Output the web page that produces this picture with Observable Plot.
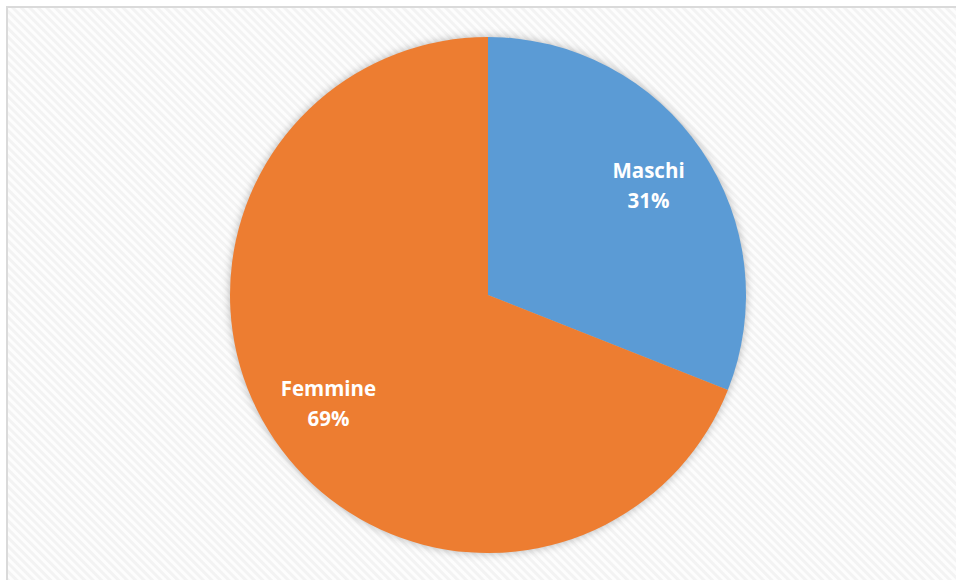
<!DOCTYPE html>
<html>
<head>
<meta charset="utf-8">
<script src="https://cdn.jsdelivr.net/npm/d3@7"></script>
<script src="https://cdn.jsdelivr.net/npm/@observablehq/plot@0.6"></script>
<style>
  html, body { margin: 0; padding: 0; background: #ffffff; }
  body { width: 956px; height: 580px; overflow: hidden; position: relative; }
  #frame {
    position: absolute; left: 6px; top: 6px; width: 1000px; height: 620px;
    border-left: 2px solid #dadada; border-top: 2px solid #dadada;
    background: repeating-linear-gradient(45deg, #fdfdfd 0px, #fdfdfd 2px, #f3f3f3 3px, #f3f3f3 5px, #fdfdfd 6px);
  }
  #chart { position: absolute; left: 0; top: 0; }
  #chart svg { background: transparent !important; overflow: visible; }
  .pie-slices { filter: drop-shadow(0 0 4px rgba(0,0,0,0.28)); }
</style>
</head>
<body>
<div id="frame"></div>
<div id="chart"></div>
<script>
const categories = ["Maschi", "Femmine"];
const shares = [31, 69];
const colors = ["#5B9BD5", "#ED7D31"];

const pie = d3.pie().sort(null).value(d => d.value);
const slices = pie(categories.map((c, i) => ({name: c, value: shares[i], color: colors[i]})));

const labelR = 0.75;
const labels = slices.map(s => {
  const a = (s.startAngle + s.endAngle) / 2;
  return {x: labelR * Math.sin(a), y: labelR * Math.cos(a), text: `${s.data.name}\n${s.data.value}%`};
});

function pieMark(index, scales) {
  const cx = scales.x(0), cy = scales.y(0);
  const r = scales.x(1) - scales.x(0);
  const arc = d3.arc().innerRadius(0).outerRadius(r);
  const g = d3.create("svg:g").attr("class", "pie-slices").attr("transform", `translate(${cx},${cy})`);
  g.selectAll("path").data(slices).join("path")
    .attr("d", arc)
    .attr("fill", d => d.data.color);
  return g.node();
}

const chart = Plot.plot({
  width: 956,
  height: 580,
  marginLeft: 230,
  marginRight: 210,
  marginTop: 37,
  marginBottom: 27,
  x: {domain: [-1, 1], axis: null},
  y: {domain: [-1, 1], axis: null},
  style: {background: "transparent", fontFamily: "'Open Sans', sans-serif"},
  marks: [
    pieMark,
    Plot.text(labels, {
      x: "x", y: "y", text: "text",
      fill: "white", fontSize: 20.5, fontWeight: "bold",
      lineHeight: 1.45, textAnchor: "middle", dy: -3
    })
  ]
});
document.getElementById("chart").appendChild(chart);
</script>
</body>
</html>
